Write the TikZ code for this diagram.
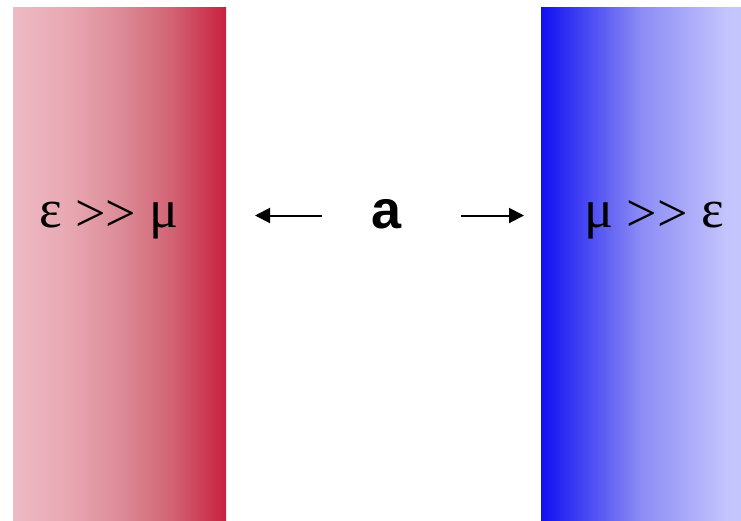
\documentclass[tikz,border=0pt]{standalone}
\usepackage{fontspec}
\setmainfont{Liberation Serif}
\newfontfamily\boldsans{Liberation Sans}
\usetikzlibrary{arrows.meta}
\definecolor{pinkA}{RGB}{238,186,197}
\definecolor{pinkB}{RGB}{232,168,178}
\definecolor{pinkC}{RGB}{220,140,152}
\definecolor{pinkD}{RGB}{210,100,116}
\definecolor{pinkE}{RGB}{201,33,64}
\definecolor{blueA}{RGB}{16,16,242}
\definecolor{blueB}{RGB}{140,140,245}
\definecolor{blueC}{RGB}{197,197,253}
\pgfdeclarehorizontalshading{redslab}{100bp}{color(0bp)=(pinkA); color(25bp)=(pinkA); color(38bp)=(pinkB); color(50bp)=(pinkC); color(62bp)=(pinkD); color(75bp)=(pinkE); color(100bp)=(pinkE)}
\pgfdeclarehorizontalshading{blueslab}{100bp}{color(0bp)=(blueA); color(25bp)=(blueA); color(50bp)=(blueB); color(72bp)=(blueC); color(100bp)=(blueC)}
\newcommand{\gtgt}{\raisebox{-4pt}{>\kern0pt>}}
\tikzset{
  slab/.style={draw=none, inner sep=0pt, outer sep=0pt},
  medtext/.style={font=\fontsize{54}{60}\selectfont, inner sep=0pt},
  arr/.style={line width=2pt, -{Triangle[length=15pt,width=15pt]}}
}
\begin{document}
\begin{tikzpicture}[x=1pt,y=-1pt]
\useasboundingbox (0,0) rectangle (741,520);
\fill[white] (0,0) rectangle (741,520);
\shade[shading=redslab] (13,7) rectangle (226,520);
\shade[shading=blueslab] (541,7) rectangle (741,520);
\node[slab, minimum width=213pt, minimum height=513pt] (left) at (119.5,263.5) {};
\node[slab, minimum width=200pt, minimum height=513pt] (right) at (641,263.5) {};
\node[medtext, anchor=base] (lt) at (109,227) {ε \gtgt{} μ};
\node[medtext, anchor=base] (rt) at (654,227) {μ \gtgt{} ε};
\node[font=\boldsans\bfseries\fontsize{54}{60}\selectfont, inner sep=0pt, anchor=base] (a) at (387,228) {a};
\coordinate (l1) at (322,215.5);
\coordinate (l2) at (255,215.5);
\coordinate (r1) at (461,215.5);
\coordinate (r2) at (524,215.5);
\draw[arr] (l1) -- (l2);
\draw[arr] (r1) -- (r2);
\end{tikzpicture}
\end{document}
